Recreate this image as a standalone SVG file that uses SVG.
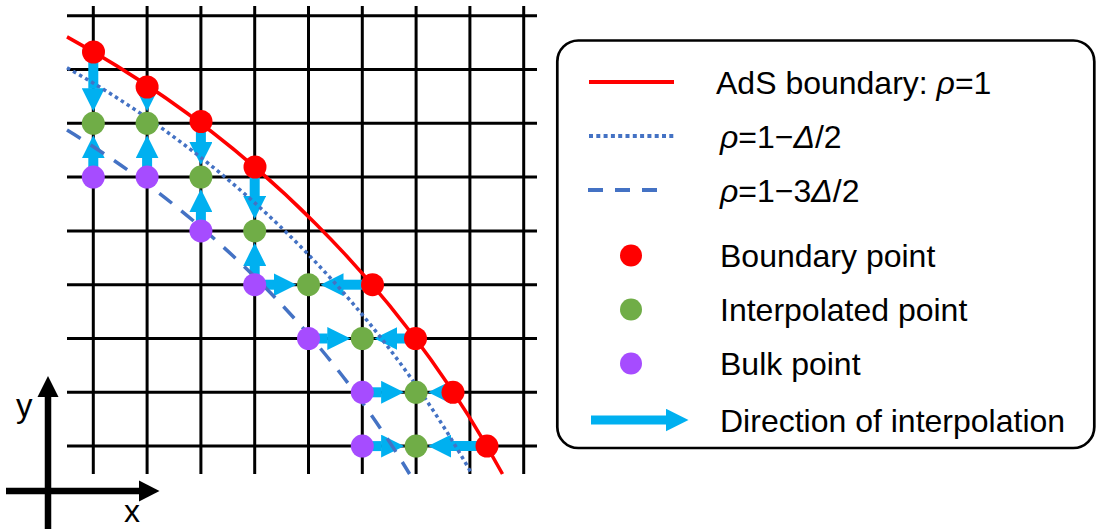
<svg xmlns="http://www.w3.org/2000/svg" width="1100" height="529" viewBox="0 0 1100 529">
<style>
.grid line{stroke:#000;stroke-width:3}
.arrows line{stroke:#00B0F0;stroke-width:10;marker-end:url(#head)}
.red{fill:#FF0000}
.green{fill:#70AD47}
.purple{fill:#A64CFF}
.lbl{font-family:"Liberation Sans",Arial,Helvetica,sans-serif;font-size:32px;fill:#000}
.it{font-style:italic}
</style>
<defs>
<marker id="head" viewBox="0 0 23 23" refX="0.5" refY="11.5" markerWidth="23" markerHeight="23" markerUnits="userSpaceOnUse" orient="auto">
<path d="M0,0 L23,11.5 L0,23 Z" fill="#00B0F0"/>
</marker>
</defs>
<rect width="1100" height="529" fill="#fff"/>
<g id="grid" class="grid">
<line x1="93.3" y1="6" x2="93.3" y2="474"/>
<line x1="147.1" y1="6" x2="147.1" y2="474"/>
<line x1="200.9" y1="6" x2="200.9" y2="474"/>
<line x1="254.7" y1="6" x2="254.7" y2="474"/>
<line x1="308.5" y1="6" x2="308.5" y2="474"/>
<line x1="362.3" y1="6" x2="362.3" y2="474"/>
<line x1="416.1" y1="6" x2="416.1" y2="474"/>
<line x1="469.9" y1="6" x2="469.9" y2="474"/>
<line x1="523.7" y1="6" x2="523.7" y2="474"/>
<line x1="67" y1="15.7" x2="537" y2="15.7"/>
<line x1="67" y1="69.5" x2="537" y2="69.5"/>
<line x1="67" y1="123.3" x2="537" y2="123.3"/>
<line x1="67" y1="177.1" x2="537" y2="177.1"/>
<line x1="67" y1="230.9" x2="537" y2="230.9"/>
<line x1="67" y1="284.7" x2="537" y2="284.7"/>
<line x1="67" y1="338.5" x2="537" y2="338.5"/>
<line x1="67" y1="392.3" x2="537" y2="392.3"/>
<line x1="67" y1="446.1" x2="537" y2="446.1"/>
</g>
<g id="connectors" class="arrows">
<line x1="93.3" y1="52" x2="93.3" y2="88.8"/>
<line x1="147.1" y1="80" x2="147.1" y2="88.8"/>
<line x1="200.9" y1="121.5" x2="200.9" y2="142.6"/>
<line x1="254.7" y1="167" x2="254.7" y2="196.4"/>
<line x1="93.3" y1="177.1" x2="93.3" y2="157.8"/>
<line x1="147.1" y1="177.1" x2="147.1" y2="157.8"/>
<line x1="200.9" y1="230.9" x2="200.9" y2="211.6"/>
<line x1="254.7" y1="284.7" x2="254.7" y2="265.4"/>
<line x1="254.7" y1="284.7" x2="274" y2="284.7"/>
<line x1="308.5" y1="338.5" x2="327.8" y2="338.5"/>
<line x1="362.3" y1="392.3" x2="381.6" y2="392.3"/>
<line x1="362.3" y1="446.1" x2="381.6" y2="446.1"/>
<line x1="372.5" y1="284.7" x2="343" y2="284.7"/>
<line x1="415.5" y1="338.5" x2="396.8" y2="338.5"/>
<line x1="460" y1="392.3" x2="450.6" y2="392.3"/>
<line x1="487" y1="446.1" x2="450.6" y2="446.1"/>
</g>
<g id="curves" fill="none">
<path id="ads-boundary" d="M67,36.9 A1095,1095 0 0 1 502.5,474" stroke="#FF0000" stroke-width="3.5"/>
<path id="rho-half" d="M67,67.7 A1068.1,1068.1 0 0 1 471.8,474" stroke="#4472C4" stroke-width="3.5" stroke-dasharray="3.5 3.5"/>
<path id="rho-3half" d="M67,130.1 A1014.3,1014.3 0 0 1 409.6,474" stroke="#4472C4" stroke-width="3.5" stroke-dasharray="16 12"/>
</g>
<g id="boundary-points" class="red">
<circle cx="93.5" cy="52" r="11.5"/>
<circle cx="147.1" cy="87" r="11.5"/>
<circle cx="201" cy="121.5" r="11.5"/>
<circle cx="255" cy="167" r="11.5"/>
<circle cx="372.5" cy="284.7" r="11.5"/>
<circle cx="415.5" cy="338.5" r="11.5"/>
<circle cx="453" cy="392.3" r="11.5"/>
<circle cx="487" cy="446.1" r="11.5"/>
</g>
<g id="interpolated-points" class="green">
<circle cx="93.3" cy="123.3" r="11.5"/>
<circle cx="147.1" cy="123.3" r="11.5"/>
<circle cx="200.9" cy="177.1" r="11.5"/>
<circle cx="254.7" cy="230.9" r="11.5"/>
<circle cx="308.5" cy="284.7" r="11.5"/>
<circle cx="362.3" cy="338.5" r="11.5"/>
<circle cx="416.1" cy="392.3" r="11.5"/>
<circle cx="416.1" cy="446.1" r="11.5"/>
</g>
<g id="bulk-points" class="purple">
<circle cx="93.3" cy="177.1" r="11.5"/>
<circle cx="147.1" cy="177.1" r="11.5"/>
<circle cx="200.9" cy="230.9" r="11.5"/>
<circle cx="254.7" cy="284.7" r="11.5"/>
<circle cx="308.5" cy="338.5" r="11.5"/>
<circle cx="362.3" cy="392.3" r="11.5"/>
<circle cx="362.3" cy="446.1" r="11.5"/>
</g>
<g id="axes">
<line x1="48" y1="529" x2="48" y2="396" stroke="#000" stroke-width="6.5"/>
<path d="M37.5,397 L48,376 L58.5,397 Z" fill="#000"/>
<line x1="6" y1="491" x2="140" y2="491" stroke="#000" stroke-width="6.5"/>
<path d="M139,480.5 L159.5,491 L139,501.5 Z" fill="#000"/>
<text class="lbl" x="16" y="417" style="font-size:33px">y</text>
<text class="lbl" x="124" y="522" style="font-size:32px">x</text>
</g>
<g id="legend">
<rect x="557.3" y="40.5" width="537" height="407.5" rx="21" ry="21" fill="none" stroke="#000" stroke-width="2.7"/>
<line x1="589" y1="82" x2="674" y2="82" stroke="#FF0000" stroke-width="4"/>
<text class="lbl" x="716" y="93.5">AdS boundary: <tspan class="it">ρ</tspan>=1</text>
<line x1="589" y1="136" x2="674" y2="136" stroke="#4472C4" stroke-width="4" stroke-dasharray="4 3.3"/>
<text class="lbl" x="720" y="147.5"><tspan class="it">ρ</tspan>=1−<tspan class="it">Δ</tspan>/2</text>
<line x1="588" y1="190" x2="657" y2="190" stroke="#4472C4" stroke-width="4" stroke-dasharray="15 12"/>
<text class="lbl" x="720" y="201.5"><tspan class="it">ρ</tspan>=1−3<tspan class="it">Δ</tspan>/2</text>
<circle cx="631" cy="255.5" r="11" class="red"/>
<text class="lbl" x="720" y="266.5">Boundary point</text>
<circle cx="631" cy="309.5" r="11" class="green"/>
<text class="lbl" x="720" y="320.5">Interpolated point</text>
<circle cx="631" cy="363.5" r="11" class="purple"/>
<text class="lbl" x="720" y="374.5">Bulk point</text>
<line x1="591" y1="420" x2="666" y2="420" stroke="#00B0F0" stroke-width="9" marker-end="url(#head)"/>
<text class="lbl" x="720" y="431.5">Direction of interpolation</text>
</g>
</svg>
